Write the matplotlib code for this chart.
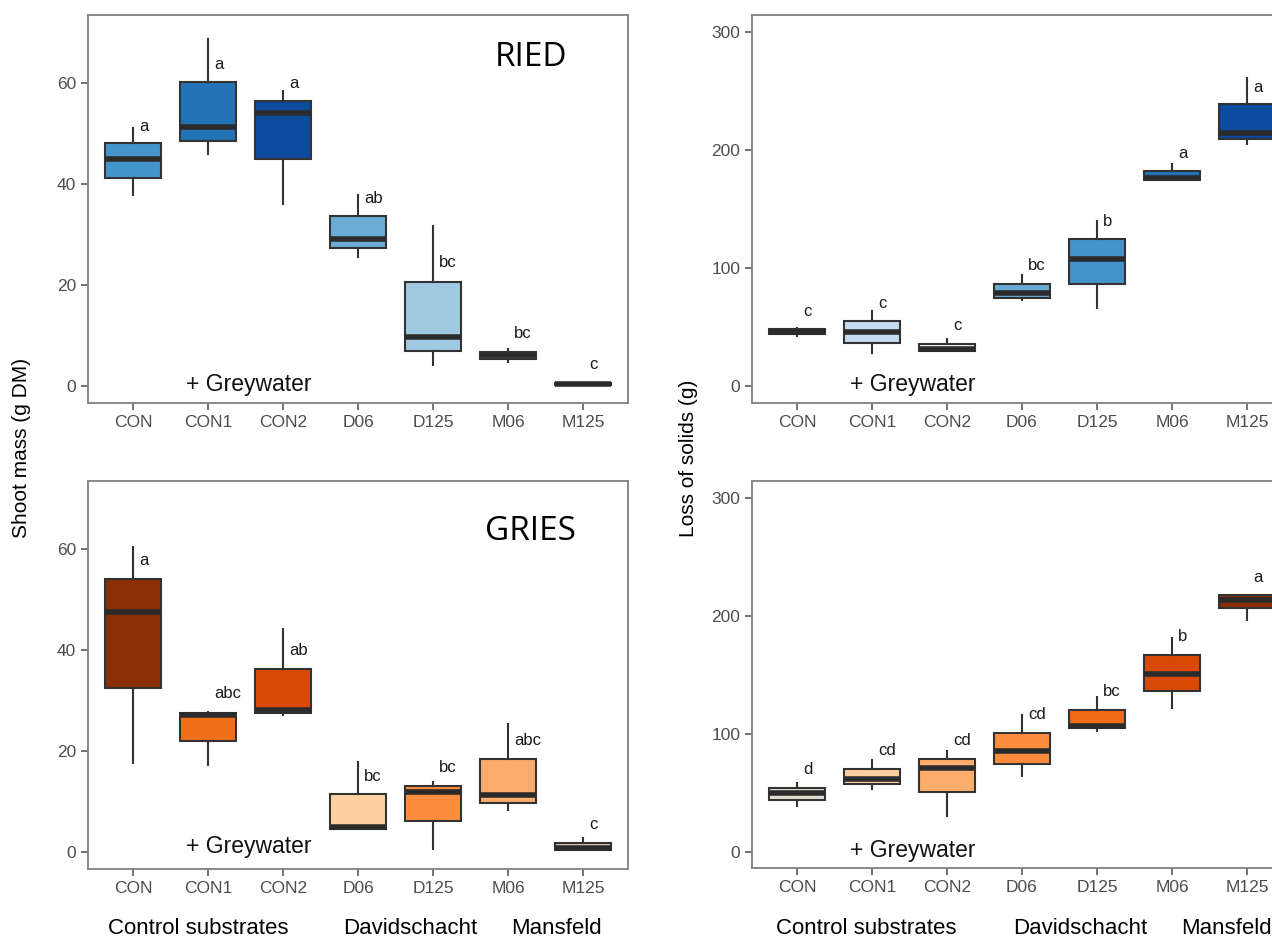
import matplotlib
matplotlib.use("Agg")
import matplotlib.pyplot as plt

plt.rcParams['font.family'] = ['Liberation Sans', 'DejaVu Sans']

treatments = ['CON', 'CON1', 'CON2', 'D06', 'D125', 'M06', 'M125']
groups = ['Control substrates', 'Davidschacht', 'Mansfeld']

# (whisker low, q1, median, q3, whisker high) per treatment
ried_mass = [(37.8, 41.2, 44.9, 48.0, 51.0),
             (45.9, 48.5, 51.3, 60.1, 68.6),
             (36.0, 44.8, 53.9, 56.3, 58.4),
             (25.5, 27.2, 29.1, 33.5, 37.8),
             (4.1, 6.9, 9.6, 20.6, 31.6),
             (4.6, 5.3, 6.1, 6.7, 7.3),
             (0.1, 0.1, 0.3, 0.6, 0.6)]
gries_mass = [(17.7, 32.5, 47.6, 54.1, 60.5),
              (17.2, 22.0, 27.1, 27.6, 27.8),
              (27.1, 27.5, 28.1, 36.2, 44.2),
              (4.6, 4.6, 4.9, 11.5, 17.8),
              (0.5, 6.2, 11.8, 13.1, 13.9),
              (8.2, 9.6, 11.3, 18.4, 25.3),
              (0.4, 0.4, 0.7, 1.8, 2.8)]
ried_loss = [(42.2, 43.6, 45.9, 47.8, 48.7),
             (28.0, 35.9, 45.3, 54.6, 63.7),
             (29.2, 29.2, 31.4, 35.7, 39.9),
             (72.7, 74.7, 78.4, 86.3, 94.0),
             (65.7, 86.0, 107.8, 124.3, 140.1),
             (174.4, 174.4, 176.6, 182.3, 188.2),
             (204.9, 209.2, 214.8, 238.9, 261.5)]
gries_loss = [(38.5, 43.5, 49.8, 54.0, 58.2),
              (53.2, 57.4, 61.9, 70.4, 78.0),
              (30.5, 50.3, 71.0, 78.3, 85.7),
              (63.9, 74.4, 85.7, 100.9, 116.2),
              (102.9, 104.9, 106.9, 120.2, 131.7),
              (121.6, 136.3, 151.0, 167.1, 181.8),
              (196.8, 206.7, 213.7, 218.0, 218.0)]

ried_mass_letters = ['a', 'a', 'a', 'ab', 'bc', 'bc', 'c']
ried_mass_letter_y = [51.4, 63.5, 59.9, 37.1, 24.4, 10.4, 4.2]
gries_mass_letters = ['a', 'abc', 'ab', 'bc', 'bc', 'abc', 'c']
gries_mass_letter_y = [57.8, 31.3, 40.0, 15.0, 16.7, 22.0, 5.5]
ried_loss_letters = ['c', 'c', 'c', 'bc', 'b', 'a', 'a']
ried_loss_letter_y = [62.8, 69.9, 50.9, 101.9, 139.8, 197.3, 253.3]
gries_loss_letters = ['d', 'cd', 'cd', 'cd', 'bc', 'b', 'a']
gries_loss_letter_y = [69.6, 85.7, 94.4, 116.8, 136.0, 182.6, 233.0]

ried_mass_colors = ['#4593cb', '#2372b6', '#0c4b9e', '#6aacd6', '#9fcae2', '#7d8b99', '#6b7b8b']
gries_mass_colors = ['#8a2e06', '#ee6f17', '#d84a04', '#fdd0a2', '#fd8c3c', '#fdad6b', '#d8c6b6']
ried_loss_colors = ['#3c6e9e', '#c6dbef', '#eef3fa', '#6aacd6', '#4593cb', '#2372b6', '#0c4b9e']
gries_loss_colors = ['#e2ded2', '#fdd0a2', '#fdad6b', '#fd8c3c', '#f06a16', '#d84a04', '#8a2e06']

fig = plt.figure(figsize=(12.72, 9.39), dpi=100)
W, H = 1272, 939


def panel(px_left, px_top, px_bottom, px_width):
    return fig.add_axes([px_left / W, 1 - px_bottom / H, px_width / W, (px_bottom - px_top) / H])


def draw(ax, data, colors, letters, letter_y, ylim, ticks, ytext):
    stats = [dict(whislo=d[0], q1=d[1], med=d[2], q3=d[3], whishi=d[4], fliers=[]) for d in data]
    pos = list(range(1, len(data) + 1))
    bp = ax.bxp(stats, positions=pos, widths=0.75, patch_artist=True, showcaps=False,
                boxprops=dict(edgecolor='#333333', linewidth=1.5),
                whiskerprops=dict(color='#333333', linewidth=1.5),
                medianprops=dict(color='#2b2b2b', linewidth=4, solid_capstyle='butt'))
    for patch, c in zip(bp['boxes'], colors):
        patch.set_facecolor(c)
    for p, t, y in zip(pos, letters, letter_y):
        ax.text(p + 0.08, y, t, ha='left', va='center', fontsize=12, color='#1a1a1a')
    ax.set_xlim(0.4, 7.6)
    ax.set_ylim(*ylim)
    ax.set_yticks(ticks)
    ax.set_xticks(pos)
    ax.set_xticklabels(treatments)
    ax.tick_params(colors='#4d4d4d', labelsize=12.5, length=5, width=1.1, labelcolor='#4d4d4d')
    for s in ax.spines.values():
        s.set_color('#808080')
        s.set_linewidth(1.3)
    ax.text(2.55, ytext, '+ Greywater', ha='center', va='center', fontsize=16.5, color='#111111')


ax1 = panel(88, 15, 403, 540)
draw(ax1, ried_mass, ried_mass_colors, ried_mass_letters, ried_mass_letter_y,
     (-3.43, 73.4), [0, 20, 40, 60], 0.3)
ax1.text(6.3, 65, 'RIED', ha='center', va='center', fontsize=24, family=['Open Sans', 'DejaVu Sans'])

ax2 = panel(752, 15, 403, 540)
draw(ax2, ried_loss, ried_loss_colors, ried_loss_letters, ried_loss_letter_y,
     (-14.6, 314.7), [0, 100, 200, 300], 1)

ax3 = panel(88, 481, 869, 540)
draw(ax3, gries_mass, gries_mass_colors, gries_mass_letters, gries_mass_letter_y,
     (-3.4, 73.5), [0, 20, 40, 60], 1)
ax3.text(6.3, 63.5, 'GRIES', ha='center', va='center', fontsize=24, family=['Open Sans', 'DejaVu Sans'])

ax4 = panel(752, 481, 868, 540)
draw(ax4, gries_loss, gries_loss_colors, gries_loss_letters, gries_loss_letter_y,
     (-13.8, 314.7), [0, 100, 200, 300], 1)

fig.text(22 / W, 1 - 448 / H, 'Shoot mass (g DM)', rotation=90, ha='center', va='center', fontsize=15)
fig.text(688 / W, 1 - 458 / H, 'Loss of solids (g)', rotation=90, ha='center', va='center', fontsize=15)

for xs in ([198, 410, 556], [866, 1080, 1226]):
    for x, g in zip(xs, groups):
        fig.text(x / W, 1 - 928 / H, g, ha='center', va='center', fontsize=16)

fig.savefig('out.png', dpi=100)
